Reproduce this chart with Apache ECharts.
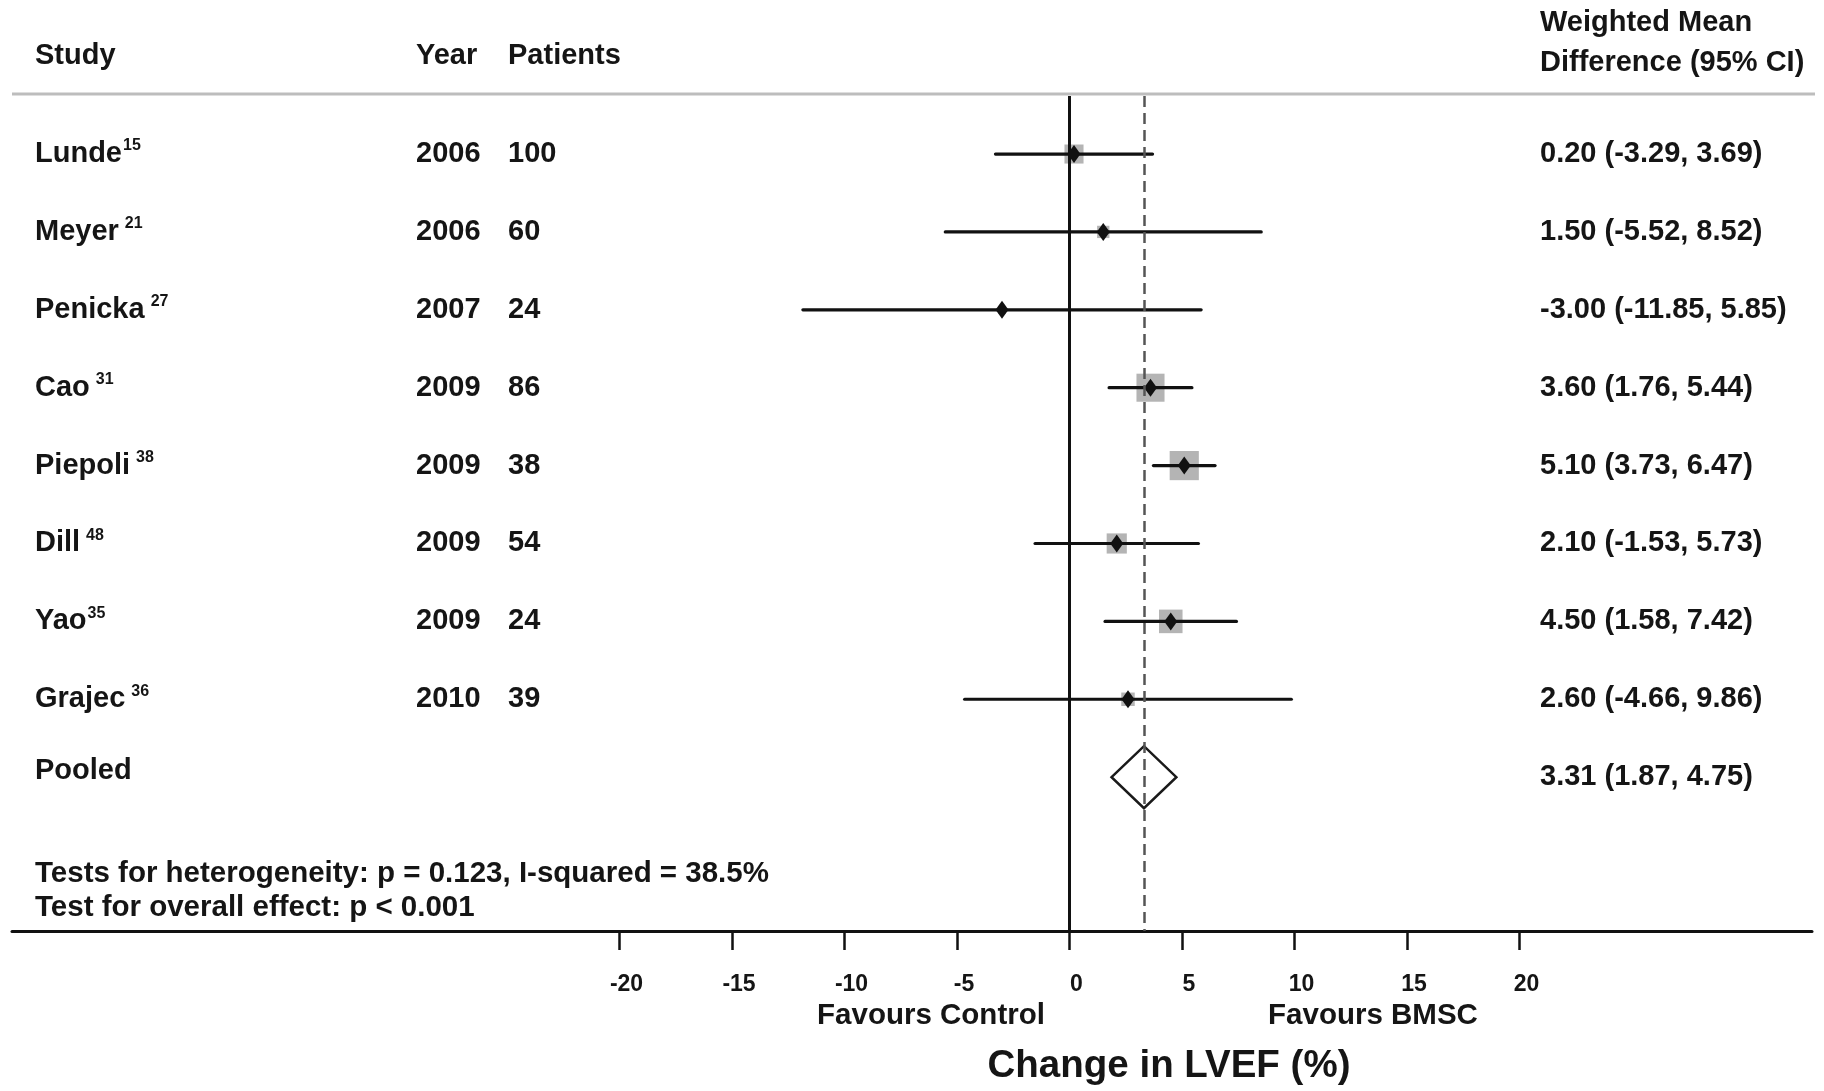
<!DOCTYPE html>
<html>
<head>
<meta charset="utf-8">
<title>Change in LVEF – forest plot</title>
<script src="https://cdn.jsdelivr.net/npm/echarts@6.0.0/dist/echarts.min.js"></script>
<style>
  html, body { margin: 0; padding: 0; background: #ffffff; }
  #chart { width: 1824px; height: 1091px; }
</style>
</head>
<body>
<div id="chart"></div>
<script>
// ---- study data ----
const studies   = ['Lunde', 'Meyer', 'Penicka', 'Cao', 'Piepoli', 'Dill', 'Yao', 'Grajec'];
const refs      = ['15', '21', '27', '31', '38', '48', '35', '36'];
const refGap    = [false, true, true, true, true, true, false, true];
const years     = [2006, 2006, 2007, 2009, 2009, 2009, 2009, 2010];
const patients  = [100, 60, 24, 86, 38, 54, 24, 39];
const wmd       = [0.20, 1.50, -3.00, 3.60, 5.10, 2.10, 4.50, 2.60];
const ciLow     = [-3.29, -5.52, -11.85, 1.76, 3.73, -1.53, 1.58, -4.66];
const ciHigh    = [3.69, 8.52, 5.85, 5.44, 6.47, 5.73, 7.42, 9.86];
const weights   = [10.8, 4.5, 1.8, 23.4, 25.3, 12.1, 16.5, 5.4];   // % weight (box area)

// ---- pooled estimate ----
const pooledLabel = 'Pooled';
const pooledEst   = 3.31;
const pooledLow   = 1.87;
const pooledHigh  = 4.75;

// ---- axis ----
const xTicks = [-20, -15, -10, -5, 0, 5, 10, 15, 20];
const xTitle = 'Change in LVEF (%)';
const favourLeft = 'Favours Control';
const favourRight = 'Favours BMSC';
const testLines = [
  'Tests for heterogeneity: p = 0.123, I-squared = 38.5%',
  'Test for overall effect: p < 0.001'
];

const FONT = '"Liberation Sans", Arial, Helvetica, sans-serif';
const TXT = '#151515';
const fmt = v => v.toFixed(2);
const ciText = (m, l, h) => fmt(m) + ' (' + fmt(l) + ', ' + fmt(h) + ')';

// column positions (px)
const COL_STUDY = 35, COL_YEAR = 416, COL_PAT = 508, COL_CI = 1540;
const LEFT_SIZE = 29, RIGHT_SIZE = 29;

const measureCtx = document.createElement('canvas').getContext('2d');
function textWidth(str, font) { measureCtx.font = font; return measureCtx.measureText(str).width; }

const rowFont = 'bold ' + LEFT_SIZE + 'px ' + FONT;

const studyRows = studies.map((s, i) => [i, wmd[i], ciLow[i], ciHigh[i], weights[i]]);

function textEl(x, y, text, size, align) {
  return {
    type: 'text', x: x, y: y, silent: true,
    style: { text: text, fill: TXT, font: 'bold ' + size + 'px ' + FONT,
             align: align || 'left', verticalAlign: 'middle' }
  };
}

function renderStudy(params, api) {
  const i = api.value(0);
  const mid = api.coord([api.value(1), i]);
  const left = api.coord([api.value(2), i]);
  const right = api.coord([api.value(3), i]);
  const y = mid[1];
  const box = 5.8 * Math.sqrt(api.value(4));
  const nameW = textWidth(studies[i], rowFont);
  return {
    type: 'group',
    children: [
      { type: 'rect', shape: { x: mid[0] - box / 2, y: y - box / 2, width: box, height: box },
        style: { fill: '#b4b4b4' } },
      { type: 'line', shape: { x1: left[0], y1: y, x2: right[0], y2: y },
        style: { stroke: '#111', lineWidth: 3.2, lineCap: 'round' } },
      { type: 'polygon', shape: { points: [[mid[0], y - 9], [mid[0] + 6.5, y], [mid[0], y + 9], [mid[0] - 6.5, y]] },
        style: { fill: '#111' } },
      textEl(COL_STUDY, y, studies[i], LEFT_SIZE),
      textEl(COL_STUDY + nameW + (refGap[i] ? 6 : 1), y - 8, refs[i], 16),
      textEl(COL_YEAR, y, String(years[i]), LEFT_SIZE),
      textEl(COL_PAT, y, String(patients[i]), LEFT_SIZE),
      textEl(COL_CI, y, ciText(wmd[i], ciLow[i], ciHigh[i]), RIGHT_SIZE)
    ]
  };
}

function renderPooled(params, api) {
  const i = api.value(0);
  const mid = api.coord([api.value(1), i]);
  const left = api.coord([api.value(2), i]);
  const right = api.coord([api.value(3), i]);
  const y = mid[1];
  const h = 31;
  return {
    type: 'group',
    children: [
      { type: 'polygon',
        shape: { points: [[left[0], y], [mid[0], y - h], [right[0], y], [mid[0], y + h]] },
        style: { fill: 'none', stroke: '#1a1a1a', lineWidth: 2.5, lineJoin: 'miter' } },
      textEl(COL_STUDY, y - 6, pooledLabel, LEFT_SIZE),
      textEl(COL_CI, y, ciText(api.value(1), api.value(2), api.value(3)), RIGHT_SIZE)
    ]
  };
}

const chart = echarts.init(document.getElementById('chart'), null, { renderer: 'canvas' });

chart.setOption({
  backgroundColor: '#ffffff',
  animation: false,
  grid: { left: 12, right: 12, top: 96, bottom: 160, containLabel: false },
  xAxis: {
    type: 'value', min: -47, max: 33,
    splitLine: { show: false },
    axisLine: { show: true, onZero: false, lineStyle: { color: '#111', width: 3 } },
    axisTick: { show: true, customValues: xTicks, length: 19, inside: false,
                lineStyle: { color: '#111', width: 2.5 } },
    axisLabel: { show: true, customValues: xTicks, margin: 42, color: TXT, align: 'center',
                 padding: [0, 0, 0, 14],
                 fontSize: 23, fontWeight: 'bold', fontFamily: FONT }
  },
  yAxis: {
    type: 'value', inverse: true, min: -0.745, max: 9.975, show: false
  },
  graphic: [
    { type: 'line', shape: { x1: 12, y1: 94, x2: 1815, y2: 94 },
      style: { stroke: '#bdbdbd', lineWidth: 3 }, silent: true },
    textEl(COL_STUDY, 56, 'Study', LEFT_SIZE),
    textEl(COL_YEAR, 56, 'Year', LEFT_SIZE),
    textEl(COL_PAT, 56, 'Patients', LEFT_SIZE),
    textEl(COL_CI, 23, 'Weighted Mean', RIGHT_SIZE),
    textEl(COL_CI, 63, 'Difference (95% CI)', RIGHT_SIZE),
    textEl(COL_STUDY, 874, testLines[0], 29.5),
    textEl(COL_STUDY, 908, testLines[1], 29.5),
    textEl(931, 1016, favourLeft, 29.5, 'center'),
    textEl(1373, 1016, favourRight, 29.5, 'center'),
    textEl(1169, 1066, xTitle, 38.5, 'center')
  ],
  series: [
    {
      // reference lines: no effect and pooled estimate
      type: 'scatter', data: [], z: 1, silent: true,
      markLine: {
        silent: true, symbol: 'none', label: { show: false },
        data: [
          { xAxis: 0, lineStyle: { color: '#111', width: 3, type: 'solid' } },
          { xAxis: pooledEst, lineStyle: { color: '#555', width: 2.5, type: [11, 6] } }
        ]
      }
    },
    {
      type: 'custom', z: 3, clip: false, silent: true,
      renderItem: renderStudy,
      encode: { x: [1, 2, 3], y: 0 },
      data: studyRows
    },
    {
      type: 'custom', z: 4, clip: false, silent: true,
      renderItem: renderPooled,
      encode: { x: [1, 2, 3], y: 0 },
      data: [[studies.length, pooledEst, pooledLow, pooledHigh]]
    }
  ]
});
</script>
</body>
</html>
